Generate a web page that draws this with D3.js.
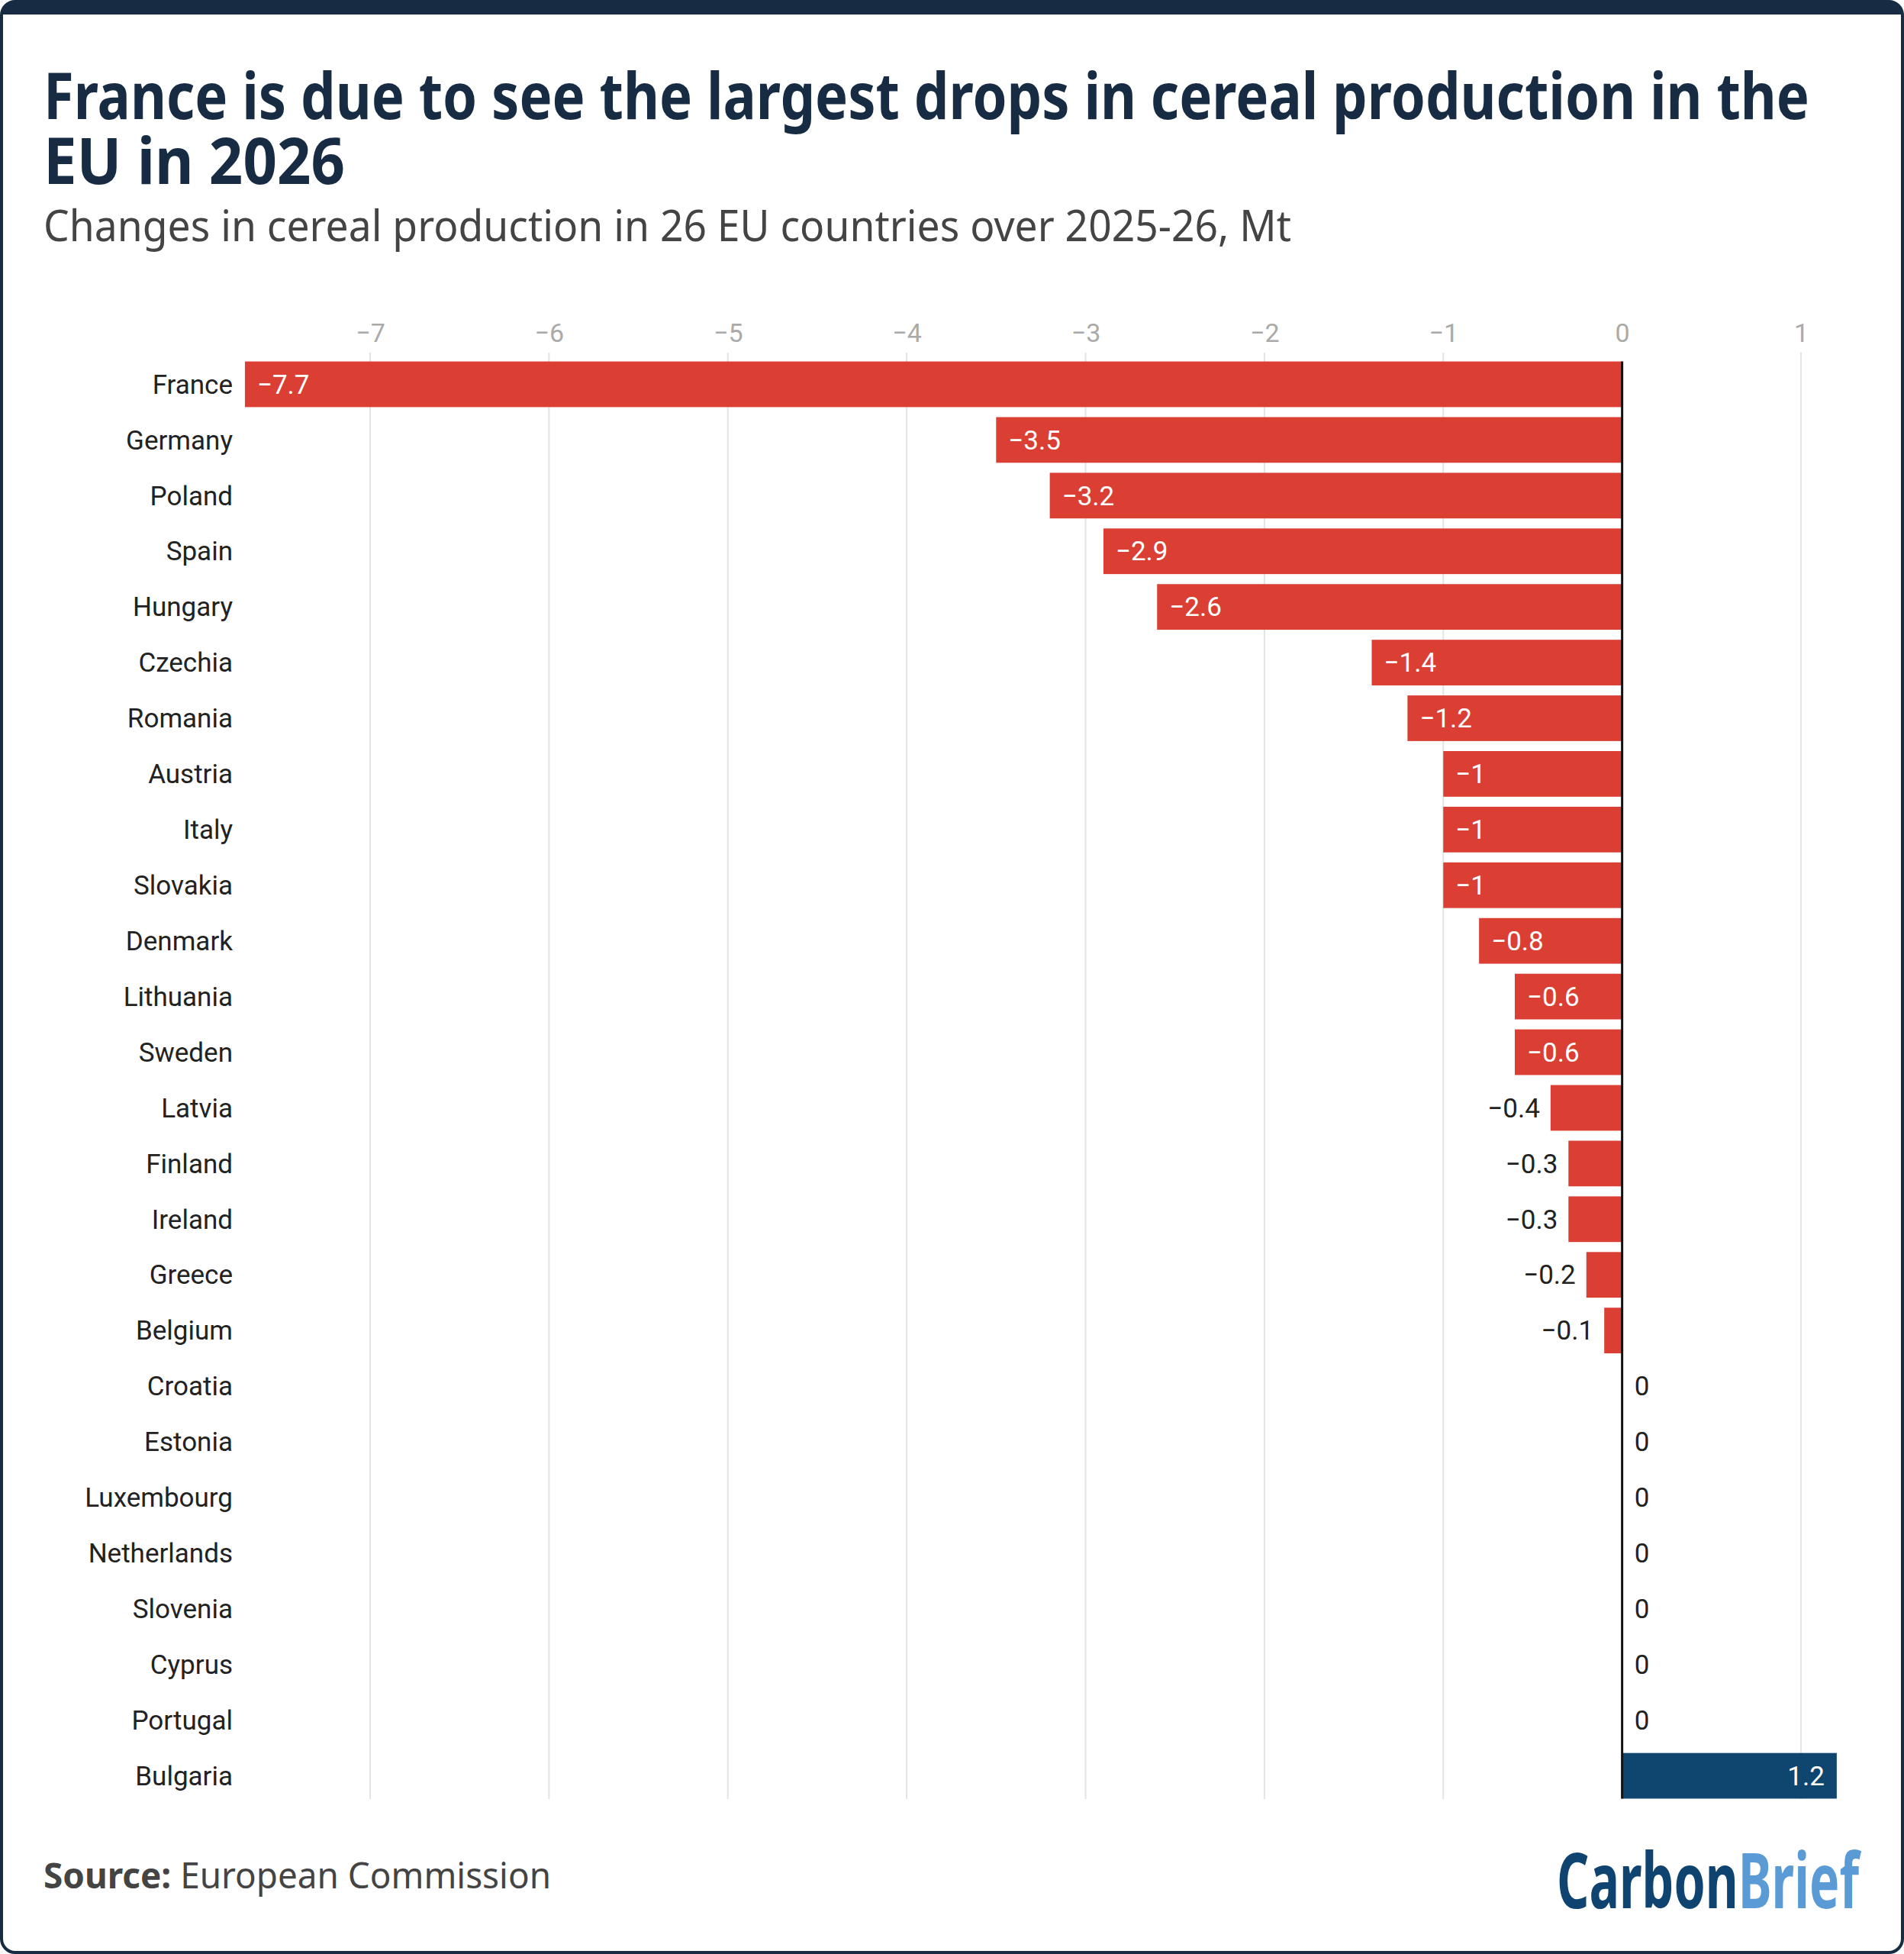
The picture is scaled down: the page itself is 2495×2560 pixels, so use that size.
<!DOCTYPE html>
<html><head><meta charset="utf-8">
<script src="https://cdn.jsdelivr.net/npm/d3@7"></script>
<style>body{margin:0;background:#fff}</style>
</head><body>
<svg id="canvas" width="2495" height="2560"></svg>
<script>
// data
let countries = ['France','Germany','Poland','Spain','Hungary','Czechia','Romania','Austria','Italy','Slovakia','Denmark','Lithuania','Sweden','Latvia','Finland','Ireland','Greece','Belgium','Croatia','Estonia','Luxembourg','Netherlands','Slovenia','Cyprus','Portugal','Bulgaria'];
let changes = [-7.7,-3.5,-3.2,-2.9,-2.6,-1.4,-1.2,-1,-1,-1,-0.8,-0.6,-0.6,-0.4,-0.3,-0.3,-0.2,-0.1,0,0,0,0,0,0,0,1.2];
let tickValues = [-7,-6,-5,-4,-3,-2,-1,0,1];

let rows = countries.map((c, i) => ({name: c, value: changes[i]}));
let svg = d3.select('#canvas');
const fmt = v => (v < 0 ? '\u2212' : '') + Math.abs(v);

// frame
svg.append('rect').attr('x', 2).attr('y', 2).attr('width', 2491).attr('height', 2556)
    .attr('rx', 18).attr('fill', '#fff').attr('stroke', '#172c43').attr('stroke-width', 4);
svg.append('path').attr('d', 'M2,20 Q2,2 20,2 L2475,2 Q2493,2 2493,20 L2493,19 L2,19 Z').attr('fill', '#172c43');

// titles
let tfont = '"Liberation Sans Narrow", "Noto Sans", sans-serif';
svg.append('text').attr('x', 57).attr('y', 156).text('France is due to see the largest drops in cereal production in the')
    .attr('font-family', tfont).attr('font-weight', 700).attr('font-size', 84).attr('fill', '#172c43')
    .attr('textLength', 2314).attr('lengthAdjust', 'spacingAndGlyphs');
svg.append('text').attr('x', 57).attr('y', 241).text('EU in 2026')
    .attr('font-family', tfont).attr('font-weight', 700).attr('font-size', 84).attr('fill', '#172c43')
    .attr('textLength', 395).attr('lengthAdjust', 'spacingAndGlyphs');
svg.append('text').attr('x', 57).attr('y', 316).text('Changes in cereal production in 26 EU countries over 2025-26, Mt')
    .attr('font-family', tfont).attr('font-size', 57).attr('fill', '#444')
    .attr('textLength', 1635).attr('lengthAdjust', 'spacingAndGlyphs');

// scales
let x = d3.scaleLinear().domain([-7, 1]).range([485, 2360]);
let y = d3.scaleBand().domain(countries).range([467, 2363]).paddingInner(0.18).paddingOuter(0.09);

// grid
let g = svg.append('g').attr('font-family', 'Roboto, sans-serif');
g.selectAll('line.grid').data(tickValues.filter(t => t !== 0)).enter().append('line')
    .attr('x1', d => x(d)).attr('x2', d => x(d)).attr('y1', 462).attr('y2', 2357)
    .attr('stroke', '#e3e3e3').attr('stroke-width', 2);
let axis = d3.axisTop(x).tickValues(tickValues).tickFormat(fmt).tickSize(0).tickPadding(0);
let ax = g.append('g').attr('transform', 'translate(0,448)').call(axis);
ax.select('.domain').remove();
ax.selectAll('text').attr('font-size', 34).attr('fill', '#aaa').attr('font-family', 'Roboto, sans-serif');

// bars
g.selectAll('rect.bar').data(rows).enter().append('rect')
    .attr('x', d => x(Math.min(0, d.value))).attr('y', d => y(d.name))
    .attr('width', d => Math.abs(x(d.value) - x(0))).attr('height', y.bandwidth())
    .attr('fill', d => d.value < 0 ? '#db3f34' : '#0e4670');

// zero line
g.append('line').attr('x1', x(0)).attr('x2', x(0)).attr('y1', y('France')).attr('y2', y('Bulgaria') + y.bandwidth())
    .attr('stroke', '#111').attr('stroke-width', 3);

// country labels
g.selectAll('text.cat').data(rows).enter().append('text')
    .attr('x', 305).attr('y', d => y(d.name) + y.bandwidth() / 2).attr('dy', '0.35em')
    .attr('text-anchor', 'end').attr('font-size', 35).attr('fill', '#222').text(d => d.name);

// value labels
g.selectAll('text.val').data(rows).enter().append('text')
    .attr('y', d => y(d.name) + y.bandwidth() / 2).attr('dy', '0.35em').attr('font-size', 35)
    .each(function(d) {
        let t = d3.select(this).text(fmt(d.value));
        if (d.value <= -0.5) t.attr('x', x(d.value) + 16).attr('fill', '#fff');
        else if (d.value < 0) t.attr('x', x(d.value) - 14).attr('text-anchor', 'end').attr('fill', '#222');
        else if (d.value === 0) t.attr('x', x(0) + 16).attr('fill', '#222');
        else t.attr('x', x(d.value) - 16).attr('text-anchor', 'end').attr('fill', '#fff');
    });

// footer
let src = svg.append('text').attr('x', 57).attr('y', 2474).attr('font-family', tfont).attr('font-size', 47).attr('fill', '#444')
    .attr('textLength', 665).attr('lengthAdjust', 'spacingAndGlyphs');
src.append('tspan').attr('font-weight', 700).text('Source: ');
src.append('tspan').text('European Commission');
let logo = svg.append('text').attr('x', 2436).attr('y', 2500).attr('text-anchor', 'end')
    .attr('font-family', tfont).attr('font-weight', 700).attr('font-size', 100)
    .attr('textLength', 396).attr('lengthAdjust', 'spacingAndGlyphs');
logo.append('tspan').attr('fill', '#0f4470').text('Carbon');
logo.append('tspan').attr('fill', '#5b9bd5').text('Brief');
</script>
</body></html>
